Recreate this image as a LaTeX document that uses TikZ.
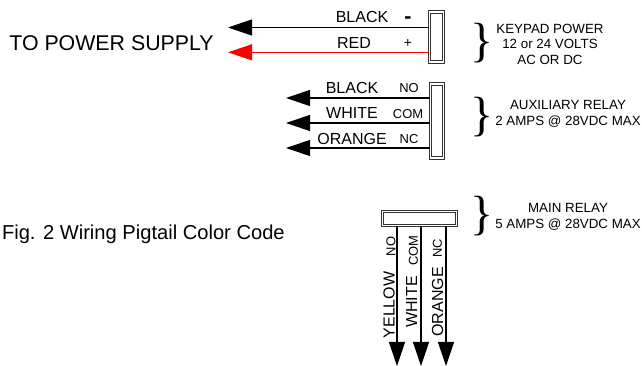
\documentclass[tikz,border=0pt]{standalone}
\usepackage{fontspec}
\setmainfont{Liberation Sans}
\newfontfamily\bracefont{Liberation Serif}
\usetikzlibrary{arrows.meta}
\tikzset{
  wire/.style={black, line width=0.8pt, -{Triangle[length=18pt, width=12pt]}},
  conn/.style={draw, black!80, line width=0.7pt, double=white, double distance=1.1pt, inner sep=0pt},
  biglabel/.style={font=\fontsize{12}{14}\selectfont, inner sep=0pt},
  smalllabel/.style={font=\fontsize{10}{11.6}\selectfont, inner sep=0pt, align=center},
  pin/.style={font=\fontsize{9.7}{11}\selectfont, inner sep=0pt},
  curly/.style={font=\bracefont\fontsize{36}{36}\selectfont, inner sep=0pt}
}
\begin{document}
\begin{tikzpicture}[x=0.75pt, y=-0.75pt]
  \useasboundingbox (0,0) rectangle (642,366);
  % connectors
  \node [conn, minimum width=10.2pt, minimum height=37.5pt] (keypad) at (436.5,37) {};
  \node [conn, minimum width=9.8pt, minimum height=55.5pt] (aux) at (437,121) {};
  \node [conn, minimum width=55.5pt, minimum height=10.2pt] (main) at (419.5,218.5) {};
  % free wire ends
  \coordinate (tipblack) at (228,27.5);
  \coordinate (tipred) at (228,52.3);
  \coordinate (tipno) at (286,98);
  \coordinate (tipcom) at (286,123);
  \coordinate (tipnc) at (286,148);
  \coordinate (tipyellow) at (397,366);
  \coordinate (tipwhite) at (421,366);
  \coordinate (tiporange) at (446,366);
  % wires
  \draw [wire] (keypad.west |- tipblack) -- (tipblack);
  \draw [wire, red] (keypad.west |- tipred) -- (tipred);
  \draw [wire] (aux.west |- tipno) -- (tipno);
  \draw [wire] (aux.west |- tipcom) -- (tipcom);
  \draw [wire] (aux.west |- tipnc) -- (tipnc);
  \draw [wire] (main.south -| tipyellow) -- (tipyellow);
  \draw [wire] (main.south -| tipwhite) -- (tipwhite);
  \draw [wire] (main.south -| tiporange) -- (tiporange);
  % wire labels
  \node [biglabel] (lblack) at (362,17) {BLACK};
  \node [biglabel] (lred) at (354,43) {RED};
  \node [pin, font=\fontsize{16}{18}\selectfont\bfseries] (lminus) at (408,20) {-};
  \node [pin, font=\fontsize{10.3}{11}\selectfont] (lplus) at (408,44) {+};
  \node [biglabel] (lauxblack) at (352,88) {BLACK};
  \node [biglabel] (lauxwhite) at (352,113) {WHITE};
  \node [biglabel] (lauxorange) at (352,139) {ORANGE};
  \node [pin] (lno) at (409,88) {NO};
  \node [pin] (lcom) at (408,114) {COM};
  \node [pin] (lnc) at (409,139) {NC};
  \node [biglabel, rotate=90] (lyellow) at (389,305) {YELLOW};
  \node [biglabel, rotate=90] (lwhite) at (411.5,302) {WHITE};
  \node [biglabel, rotate=90] (lorange) at (437.5,302) {ORANGE};
  \node [pin, rotate=90] (lmainno) at (391,246.5) {NO};
  \node [pin, rotate=90] (lmaincom) at (413.5,250.5) {COM};
  \node [pin, rotate=90] (lmainnc) at (437.5,248) {NC};
  % captions
  \node [biglabel, font=\fontsize{16}{18}\selectfont] (supply) at (111.5,43) {TO POWER SUPPLY};
  \node [biglabel, font=\fontsize{15.1}{18}\selectfont, anchor=east] (figcap) at (285,234) {Fig. 2 Wiring Pigtail Color Code};
  % braces
  \node [curly] (keypadbrace) at (482,43.5) {\}};
  \node [curly] (auxbrace) at (482,117.5) {\}};
  \node [curly] (mainbrace) at (482,216) {\}};
  \node [smalllabel] (keypadnote) at (550,44) {KEYPAD POWER\\12 or 24 VOLTS\\AC OR DC};
  \node [smalllabel] (auxnote) at (568,114) {AUXILIARY RELAY\\2 AMPS @ 28VDC MAX};
  \node [smalllabel] (mainnote) at (568,217) {MAIN RELAY\\5 AMPS @ 28VDC MAX};
\end{tikzpicture}
\end{document}
